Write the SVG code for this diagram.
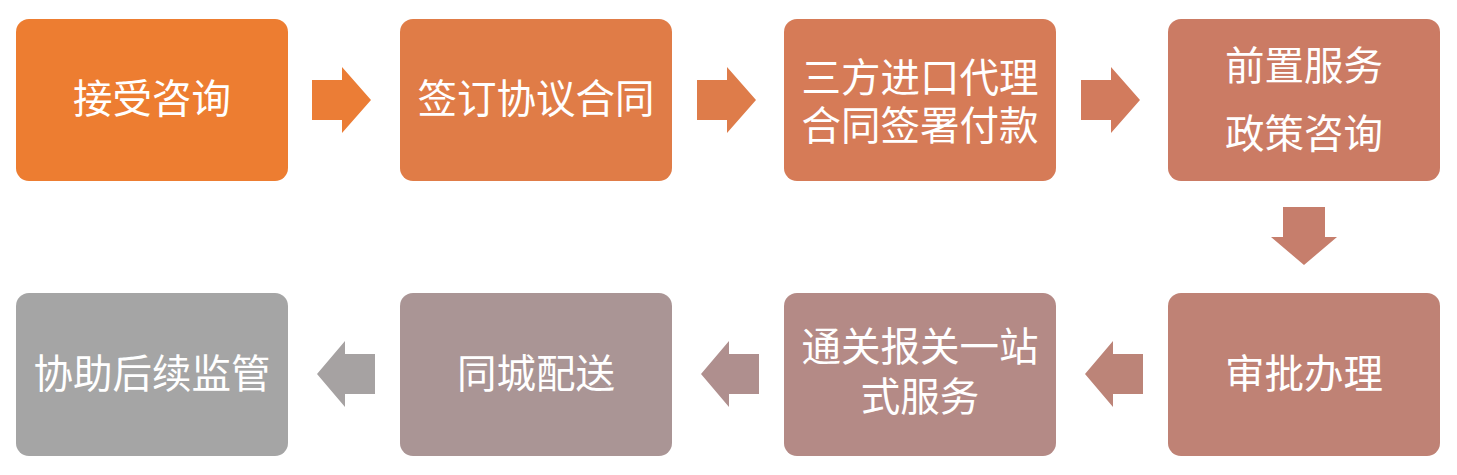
<svg xmlns="http://www.w3.org/2000/svg" width="1457" height="475" viewBox="0 0 1457 475">
<style>
.box{stroke:none}
.t{font-family:"Noto Sans CJK SC","Liberation Sans",sans-serif;font-size:39.5px;fill:#FFFFFF;text-anchor:middle}
</style>
<rect width="1457" height="475" fill="#FFFFFF"/>
<g id="connectors">
<path d="M312,80 H342 V67 L371,100 L342,133 V120 H312 Z" fill="#EB7D36"/>
<path d="M697,80 H727 V67 L756,100 L727,133 V120 H697 Z" fill="#DE7C4A"/>
<path d="M1081,80 H1111 V67 L1140,100 L1111,133 V120 H1081 Z" fill="#D27B5D"/>
<path d="M1283,207 H1325 V237 H1337 L1304,265 L1271,237 H1283 Z" fill="#C67E6C"/>
<path d="M1143,354 H1113 V341 L1085,374 L1113,407 V394 H1143 Z" fill="#BC8478"/>
<path d="M759,354 H729 V341 L701,374 L729,407 V394 H759 Z" fill="#AF8F8E"/>
<path d="M375,354 H345 V341 L317,374 L345,407 V394 H375 Z" fill="#A6A2A2"/>
</g>
<g id="n1"><rect class="box" x="16" y="19" width="272" height="162" rx="13" fill="#ED7D31"/><text class="t" x="152" y="113">接受咨询</text></g>
<g id="n2"><rect class="box" x="400" y="19" width="272" height="162" rx="13" fill="#E07C47"/><text class="t" x="536" y="113">签订协议合同</text></g>
<g id="n3"><rect class="box" x="784" y="19" width="272" height="162" rx="13" fill="#D67B57"/><text class="t"><tspan x="920" y="92">三方进口代理</tspan><tspan x="920" y="140">合同签署付款</tspan></text></g>
<g id="n4"><rect class="box" x="1168" y="19" width="272" height="162" rx="13" fill="#CB7B64"/><text class="t"><tspan x="1304" y="80">前置服务</tspan><tspan x="1304" y="148">政策咨询</tspan></text></g>
<g id="n5"><rect class="box" x="1168" y="293" width="272" height="163" rx="13" fill="#BF8275"/><text class="t" x="1304" y="388">审批办理</text></g>
<g id="n6"><rect class="box" x="784" y="293" width="272" height="163" rx="13" fill="#B48A86"/><text class="t"><tspan x="920" y="361">通关报关一站</tspan><tspan x="920" y="411">式服务</tspan></text></g>
<g id="n7"><rect class="box" x="400" y="293" width="272" height="163" rx="13" fill="#AA9595"/><text class="t" x="536" y="388">同城配送</text></g>
<g id="n8"><rect class="box" x="16" y="293" width="272" height="163" rx="13" fill="#A5A5A5"/><text class="t" x="152" y="388">协助后续监管</text></g>
</svg>
